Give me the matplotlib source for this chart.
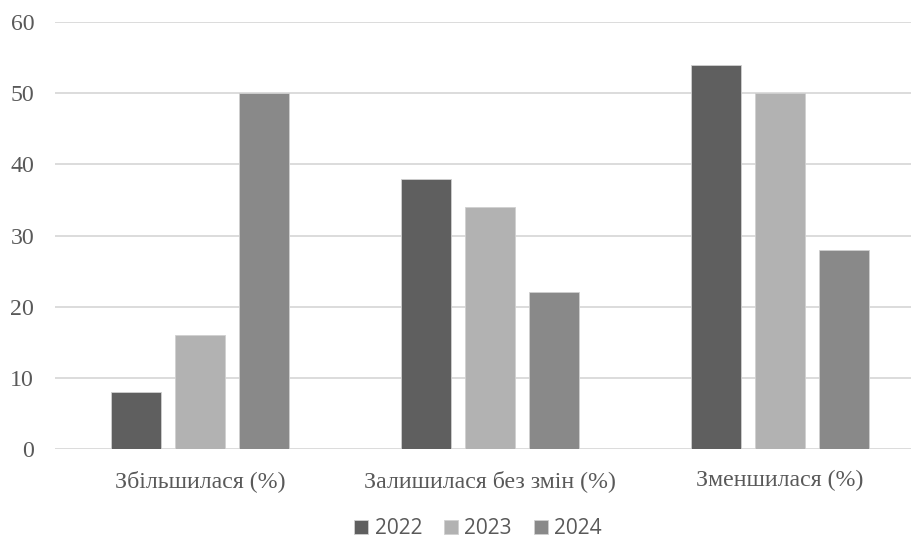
import numpy as np
import matplotlib.pyplot as plt

categories = ["Збільшилася (%)", "Залишилася без змін (%)", "Зменшилася (%)"]
years = ["2022", "2023", "2024"]
v2022 = [8, 38, 54]
v2023 = [16, 34, 50]
v2024 = [50, 22, 28]

colors = ["#5f5f5f", "#b2b2b2", "#898989"]

fig = plt.figure(figsize=(9.12, 5.41), dpi=100)
ax = fig.add_axes([55 / 912, 92 / 541, 857 / 912, 427 / 541])

x = np.arange(len(categories))
width = 0.172
step = 0.221
for i, (vals, yr) in enumerate(zip([v2022, v2023, v2024], years)):
    ax.bar(x + (i - 1) * step, vals, width, color=colors[i], label=yr,
           edgecolor="#d0d0d0", linewidth=0.6, zorder=3)

ax.set_xlim(-0.5, -0.5 + 857 / 290)
ax.set_ylim(0, 60)
ax.set_yticks(range(0, 61, 10))
ax.yaxis.grid(True, color="#d9d9d9", linewidth=1.3, zorder=0)
ax.set_axisbelow(True)
for s in ax.spines.values():
    s.set_visible(False)
ax.tick_params(axis="both", length=0)
ax.tick_params(axis="y", pad=15)
ax.tick_params(axis="x", pad=15)
ax.set_xticks(x)
ax.set_xticklabels(categories)
for lab in ax.get_xticklabels() + ax.get_yticklabels():
    lab.set_fontfamily("Liberation Serif")
    lab.set_color("#595959")
    lab.set_fontsize(17.2)

leg = fig.legend(loc="center", bbox_to_anchor=(478 / 912, 1 - 529 / 541), ncol=3,
                 frameon=False, handlelength=0.67, handleheight=0.67,
                 handletextpad=0.3, columnspacing=1.05,
                 prop={"family": "Open Sans", "size": 15})
for t in leg.get_texts():
    t.set_color("#595959")

fig.savefig("out.png", dpi=100)
